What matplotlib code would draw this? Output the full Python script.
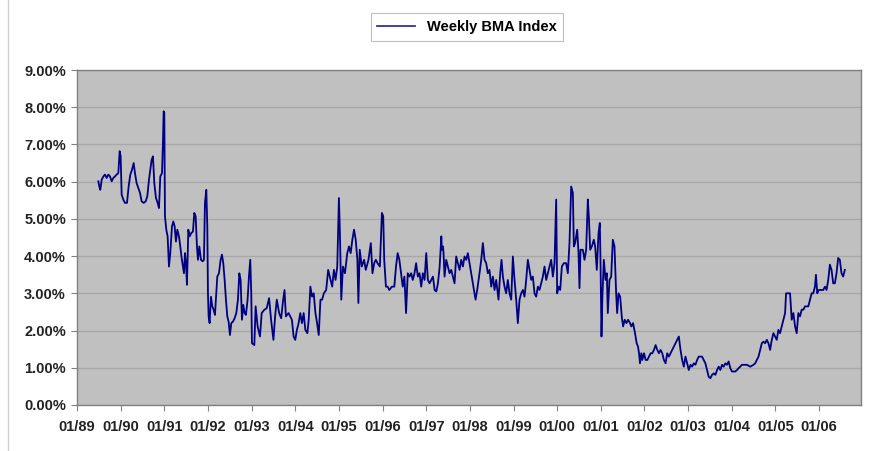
import matplotlib
matplotlib.use("Agg")
import matplotlib.pyplot as plt
from matplotlib.lines import Line2D

plt.rcParams['font.family'] = ['Liberation Sans', 'DejaVu Sans']

# weekly BMA index (decimal year, percent)
years = [
    1989.489, 1989.511, 1989.534, 1989.565, 1989.603, 1989.641, 1989.679, 1989.718, 1989.756, 1989.794,
    1989.832, 1989.870, 1989.908, 1989.947, 1989.977, 1990.000, 1990.023, 1990.061, 1990.099, 1990.145,
    1990.183, 1990.221, 1990.260, 1990.298, 1990.328, 1990.366, 1990.405, 1990.443, 1990.481, 1990.527,
    1990.573, 1990.611, 1990.649, 1990.679, 1990.710, 1990.740, 1990.771, 1990.809, 1990.847, 1990.878,
    1990.908, 1990.947, 1990.969, 1990.985, 1991.000, 1991.015, 1991.046, 1991.076, 1991.107, 1991.137,
    1991.176, 1991.206, 1991.237, 1991.267, 1991.298, 1991.336, 1991.366, 1991.397, 1991.427, 1991.450,
    1991.473, 1991.496, 1991.519, 1991.550, 1991.580, 1991.618, 1991.656, 1991.687, 1991.718, 1991.748,
    1991.771, 1991.802, 1991.840, 1991.878, 1991.908, 1991.931, 1991.962, 1991.985, 1992.000, 1992.015,
    1992.038, 1992.069, 1992.099, 1992.130, 1992.160, 1992.191, 1992.214, 1992.252, 1992.290, 1992.321,
    1992.351, 1992.382, 1992.412, 1992.443, 1992.473, 1992.504, 1992.534, 1992.573, 1992.611, 1992.649,
    1992.687, 1992.718, 1992.748, 1992.779, 1992.809, 1992.840, 1992.870, 1992.908, 1992.939, 1992.969,
    1992.992, 1993.008, 1993.062, 1993.092, 1993.138, 1993.192, 1993.231, 1993.292, 1993.346, 1993.400,
    1993.446, 1993.500, 1993.538, 1993.577, 1993.631, 1993.677, 1993.723, 1993.754, 1993.785, 1993.846,
    1993.923, 1993.962, 1994.000, 1994.038, 1994.077, 1994.115, 1994.154, 1994.192, 1994.231, 1994.277,
    1994.308, 1994.346, 1994.385, 1994.423, 1994.462, 1994.500, 1994.538, 1994.577, 1994.615, 1994.654,
    1994.708, 1994.754, 1994.808, 1994.846, 1994.885, 1994.923, 1994.962, 1995.000, 1995.023, 1995.054,
    1995.092, 1995.138, 1995.192, 1995.231, 1995.269, 1995.308, 1995.346, 1995.385, 1995.423, 1995.446,
    1995.477, 1995.523, 1995.577, 1995.615, 1995.677, 1995.731, 1995.769, 1995.808, 1995.846, 1995.885,
    1995.938, 1995.985, 1996.015, 1996.038, 1996.077, 1996.115, 1996.154, 1996.215, 1996.269, 1996.308,
    1996.346, 1996.385, 1996.423, 1996.462, 1996.500, 1996.538, 1996.577, 1996.615, 1996.654, 1996.692,
    1996.731, 1996.769, 1996.808, 1996.846, 1996.885, 1996.923, 1996.962, 1997.000, 1997.038, 1997.077,
    1997.154, 1997.192, 1997.231, 1997.269, 1997.308, 1997.346, 1997.385, 1997.359, 1997.397, 1997.420,
    1997.458, 1997.496, 1997.534, 1997.573, 1997.611, 1997.649, 1997.687, 1997.725, 1997.763, 1997.802,
    1997.840, 1997.878, 1997.916, 1997.954, 1997.992, 1998.031, 1998.069, 1998.107, 1998.130, 1998.168,
    1998.221, 1998.260, 1998.298, 1998.336, 1998.374, 1998.412, 1998.450, 1998.489, 1998.527, 1998.565,
    1998.603, 1998.656, 1998.695, 1998.725, 1998.756, 1998.794, 1998.832, 1998.870, 1998.908, 1998.947,
    1998.985, 1999.023, 1999.061, 1999.099, 1999.137, 1999.176, 1999.214, 1999.252, 1999.290, 1999.328,
    1999.366, 1999.405, 1999.443, 1999.481, 1999.519, 1999.557, 1999.595, 1999.634, 1999.672, 1999.710,
    1999.748, 1999.786, 1999.824, 1999.863, 1999.901, 1999.939, 1999.977, 2000.000, 2000.031, 2000.069,
    2000.107, 2000.153, 2000.206, 2000.244, 2000.282, 2000.321, 2000.359, 2000.382, 2000.412, 2000.458,
    2000.489, 2000.511, 2000.534, 2000.588, 2000.626, 2000.664, 2000.702, 2000.725, 2000.756, 2000.794,
    2000.840, 2000.870, 2000.908, 2000.947, 2000.977, 2000.992, 2001.015, 2001.038, 2001.069, 2001.107,
    2001.137, 2001.160, 2001.198, 2001.237, 2001.275, 2001.313, 2001.351, 2001.374, 2001.405, 2001.443,
    2001.479, 2001.510, 2001.548, 2001.586, 2001.624, 2001.669, 2001.700, 2001.738, 2001.783, 2001.821,
    2001.852, 2001.875, 2001.897, 2001.928, 2001.951, 2001.989, 2002.027, 2002.065, 2002.103, 2002.141,
    2002.179, 2002.217, 2002.255, 2002.293, 2002.331, 2002.369, 2002.407, 2002.445, 2002.483, 2002.521,
    2002.559, 2002.597, 2002.635, 2002.673, 2002.711, 2002.749, 2002.787, 2002.825, 2002.863, 2002.901,
    2002.939, 2002.977, 2003.015, 2003.053, 2003.091, 2003.129, 2003.167, 2003.205, 2003.243, 2003.281,
    2003.319, 2003.357, 2003.395, 2003.433, 2003.471, 2003.510, 2003.548, 2003.586, 2003.624, 2003.662,
    2003.700, 2003.738, 2003.776, 2003.814, 2003.852, 2003.890, 2003.928, 2003.966, 2004.004, 2004.042,
    2004.080, 2004.118, 2004.156, 2004.194, 2004.232, 2004.270, 2004.346, 2004.422, 2004.498, 2004.536,
    2004.574, 2004.612, 2004.650, 2004.688, 2004.726, 2004.764, 2004.802, 2004.840, 2004.878, 2004.916,
    2004.954, 2004.992, 2005.030, 2005.068, 2005.106, 2005.144, 2005.183, 2005.221, 2005.243, 2005.297,
    2005.335, 2005.373, 2005.411, 2005.449, 2005.487, 2005.525, 2005.563, 2005.601, 2005.639, 2005.677,
    2005.715, 2005.753, 2005.791, 2005.829, 2005.867, 2005.905, 2005.928, 2005.958, 2005.989, 2006.019,
    2006.057, 2006.095, 2006.133, 2006.171, 2006.209, 2006.247, 2006.285, 2006.323, 2006.361, 2006.399,
    2006.437, 2006.475, 2006.513, 2006.551, 2006.589,
]
rates = [
    6.01, 5.87, 5.78, 6.05, 6.14, 6.19, 6.10, 6.19, 6.14, 6.01,
    6.10, 6.14, 6.19, 6.23, 6.82, 6.68, 5.65, 5.52, 5.43, 5.43,
    5.87, 6.19, 6.32, 6.50, 6.23, 5.96, 5.83, 5.70, 5.47, 5.43,
    5.47, 5.61, 6.05, 6.32, 6.59, 6.68, 5.96, 5.56, 5.43, 5.29,
    6.14, 6.23, 7.04, 7.89, 7.85, 5.07, 4.71, 4.53, 3.72, 4.08,
    4.80, 4.93, 4.80, 4.39, 4.71, 4.53, 4.26, 3.95, 3.72, 3.54,
    4.08, 3.81, 3.23, 4.71, 4.53, 4.62, 4.66, 5.16, 5.07, 4.26,
    3.90, 4.26, 3.90, 3.86, 3.90, 5.43, 5.78, 4.80, 3.00, 2.38,
    2.20, 2.91, 2.65, 2.56, 2.42, 3.00, 3.45, 3.54, 3.90, 4.04,
    3.81, 3.36, 2.83, 2.38, 2.24, 1.88, 2.20, 2.24, 2.33, 2.47,
    2.83, 3.54, 3.36, 2.29, 2.69, 2.47, 2.42, 2.83, 3.45, 3.90,
    3.00, 1.66, 1.61, 2.65, 2.11, 1.84, 2.47, 2.56, 2.60, 2.87,
    2.29, 1.75, 2.38, 2.83, 2.47, 2.33, 2.83, 3.09, 2.38, 2.47,
    2.29, 1.84, 1.75, 2.02, 2.20, 2.47, 2.20, 2.47, 2.02, 1.93,
    2.29, 3.18, 2.91, 3.00, 2.47, 2.20, 1.88, 2.83, 2.83, 3.00,
    3.09, 3.63, 3.36, 3.18, 3.63, 3.36, 3.72, 5.56, 4.62, 2.83,
    3.72, 3.54, 4.08, 4.26, 4.08, 4.44, 4.71, 4.44, 3.90, 2.74,
    4.17, 3.72, 3.90, 3.63, 3.90, 4.35, 3.54, 3.81, 3.90, 3.81,
    3.72, 5.16, 5.07, 3.90, 3.18, 3.18, 3.09, 3.18, 3.18, 3.72,
    4.08, 3.90, 3.54, 3.18, 3.45, 2.47, 3.54, 3.45, 3.54, 3.36,
    3.54, 3.81, 3.45, 3.54, 3.18, 3.54, 3.36, 4.08, 3.36, 3.27,
    3.45, 3.09, 3.05, 3.27, 3.72, 4.53, 4.26, 4.17, 4.08, 3.45,
    3.90, 3.72, 3.54, 3.63, 3.45, 3.27, 3.99, 3.81, 3.63, 3.90,
    3.72, 3.99, 3.90, 4.08, 3.81, 3.54, 3.27, 3.00, 2.83, 3.09,
    3.54, 3.90, 4.35, 3.90, 3.81, 3.54, 3.63, 3.18, 3.45, 3.09,
    3.36, 2.83, 3.54, 3.90, 3.45, 3.18, 3.00, 3.36, 3.00, 2.83,
    3.99, 3.36, 2.83, 2.20, 2.83, 3.00, 3.09, 2.91, 3.36, 3.90,
    3.63, 3.36, 3.45, 3.00, 2.91, 3.18, 3.09, 3.27, 3.45, 3.72,
    3.36, 3.54, 3.72, 3.90, 3.45, 3.81, 5.52, 3.00, 3.18, 3.09,
    3.72, 3.81, 3.81, 3.54, 4.35, 5.87, 5.70, 4.26, 4.35, 4.71,
    4.08, 3.14, 4.17, 4.17, 3.90, 4.17, 5.52, 5.07, 4.17, 4.26,
    4.44, 4.26, 3.63, 4.62, 4.89, 3.90, 1.84, 3.00, 3.90, 3.36,
    3.54, 2.47, 3.36, 3.45, 4.44, 4.26, 3.00, 2.47, 3.00, 2.91,
    2.38, 2.11, 2.29, 2.20, 2.29, 2.20, 2.11, 2.20, 1.93, 1.66,
    1.57, 1.39, 1.12, 1.39, 1.21, 1.39, 1.21, 1.21, 1.30, 1.39,
    1.39, 1.48, 1.61, 1.48, 1.39, 1.48, 1.39, 1.21, 1.12, 1.39,
    1.30, 1.39, 1.48, 1.57, 1.66, 1.75, 1.84, 1.48, 1.21, 1.03,
    1.30, 1.12, 0.94, 1.08, 1.03, 1.12, 1.08, 1.21, 1.30, 1.30,
    1.30, 1.21, 1.12, 0.94, 0.76, 0.72, 0.81, 0.85, 0.81, 0.94,
    1.03, 0.94, 1.08, 1.03, 1.12, 1.08, 1.17, 0.99, 0.90, 0.90,
    0.90, 0.94, 0.99, 1.03, 1.08, 1.08, 1.08, 1.03, 1.08, 1.12,
    1.21, 1.30, 1.48, 1.66, 1.70, 1.66, 1.75, 1.66, 1.48, 1.75,
    1.93, 1.84, 1.75, 2.02, 1.93, 2.11, 2.29, 2.47, 3.00, 3.00,
    3.00, 2.29, 2.47, 2.11, 1.93, 2.47, 2.38, 2.56, 2.56, 2.65,
    2.65, 2.65, 2.83, 3.00, 3.00, 3.18, 3.50, 3.00, 3.09, 3.09,
    3.09, 3.09, 3.18, 3.09, 3.36, 3.77, 3.63, 3.27, 3.27, 3.54,
    3.95, 3.90, 3.54, 3.45, 3.63,
]
series_name = 'Weekly BMA Index'
tick_years = list(range(1989, 2007))
tick_labels = ['01/%02d' % (y % 100) for y in tick_years]
y_ticks = list(range(0, 10))

pairs = sorted(zip(years, rates))
xs = [p[0] for p in pairs]
ys = [p[1] for p in pairs]

fig = plt.figure(figsize=(8.8, 4.51), dpi=100)
fig.patch.set_facecolor('white')
ax = fig.add_axes([77 / 880, 1 - 405 / 451, 784 / 880, 335 / 451])
ax.set_facecolor('#C0C0C0')

ax.plot(xs, ys, color='#000080', lw=1.3, label=series_name)

ax.set_xlim(1989, 2006.96)
ax.set_ylim(0, 9)
ax.set_yticks(y_ticks)
ax.set_yticklabels(['%.2f%%' % v for v in y_ticks])
ax.set_xticks(tick_years)
ax.set_xticklabels(tick_labels)
ax.grid(axis='y', color='#A8A8A8', lw=0.9)
ax.set_axisbelow(True)
for s in ax.spines.values():
    s.set_color('#808080')
    s.set_linewidth(1.0)
ax.tick_params(axis='both', length=4, color='#808080', width=0.8, labelsize=10.5)
ax.tick_params(axis='x', pad=7)
ax.tick_params(axis='y', pad=4)
for lbl in ax.get_xticklabels() + ax.get_yticklabels():
    lbl.set_fontweight('bold')
    lbl.set_color('#222222')

leg = fig.legend(loc='center', bbox_to_anchor=(467 / 880, 1 - 27 / 451), frameon=True,
                 fancybox=False, handlelength=2.6, borderpad=0.45,
                 prop={'weight': 'bold', 'size': 10.5})
leg.get_frame().set_edgecolor('#B0B0B0')
leg.get_frame().set_linewidth(0.8)
leg.get_lines()[0].set_color('#3030A0')

# chart area border on the left side
fig.add_artist(Line2D([8 / 880, 8 / 880], [0, 1], color='#D0D0D0', lw=1.0))

fig.savefig('out.png', dpi=100)
